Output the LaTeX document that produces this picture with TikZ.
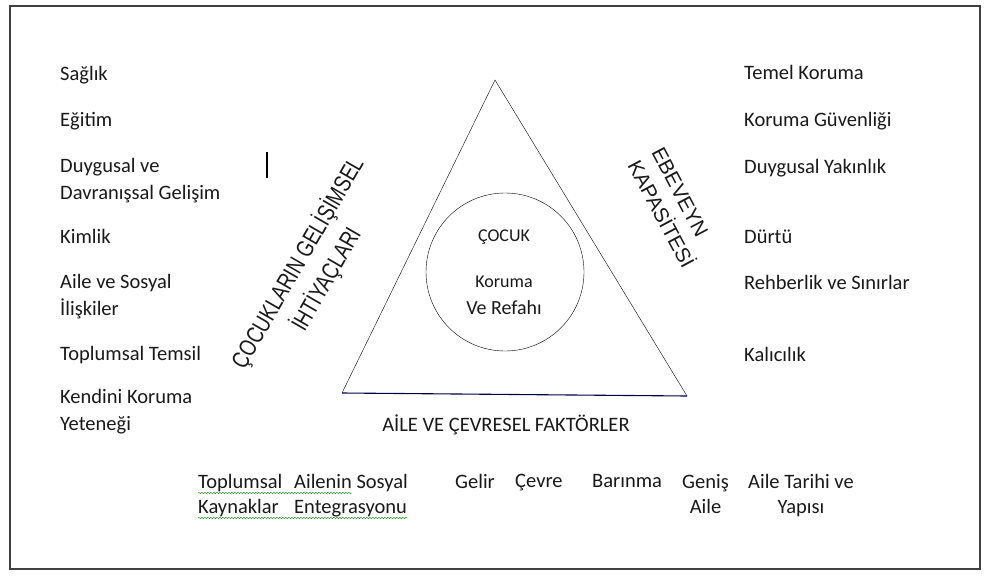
\documentclass[tikz,border=0pt]{standalone}
\usepackage{fontspec}
\setmainfont{Carlito}
\newfontfamily\narrowcaps[FakeStretch=0.78]{Liberation Sans}
\newfontfamily\plaincaps{Liberation Sans}
\usetikzlibrary{positioning}
\usetikzlibrary{decorations.pathmorphing}

\begin{document}
\begin{tikzpicture}[x=1pt, y=-1pt,
			item/.style={anchor=north west, inner sep=0pt, align=left, text=black!90, font=\fontsize{20.5}{27}\selectfont},
			factor/.style={anchor=north west, inner sep=0pt, text=black!90, font=\fontsize{20.5}{25}\selectfont},
			inside/.style={inner sep=0pt, text=black!90, font=\fontsize{18}{22}\selectfont},
			side/.style={inner sep=0pt, text=black!90},
			spell/.style={draw=green!55!black, decorate, decoration={snake, amplitude=0.7pt, segment length=3pt}},
			]
			
			\useasboundingbox (0,0) rectangle (984,575);
			\draw[black!75, line width=1.3pt] (10,6) rectangle (980,569);
			
			% triangle and circle
			\coordinate (apex) at (495,80);
			\coordinate (base_l) at (342,393);
			\coordinate (base_r) at (687,396);
			\draw (base_l) -- (apex) -- (base_r);
			\draw[blue!25!black, line width=1.1pt] (base_l) -- (base_r);
			\node[draw, circle, minimum size=158pt, inner sep=0pt] (child) at (505,272) {};
			
			\node[inside]       (cocuk)   at (504,237)                                   {ÇOCUK};
			\node[inside]       (korum)   at (504,282)                                   {Koruma};
			\node[inside]       (refah)   [below of=korum, node distance=26pt, font=\fontsize{20}{24}\selectfont] {Ve Refahı};
			
			\node[text=black!90, font=\fontsize{20.5}{24}\selectfont] (faktor) at (506,425) {AİLE VE ÇEVRESEL FAKTÖRLER};
			
			\node[side, align=center, rotate=60, font=\narrowcaps\fontsize{24}{28}\selectfont] (needs)    at (312,271) {ÇOCUKLARIN GELİŞİMSEL\\[5pt]İHTİYAÇLARI};
			\node[side, align=left, rotate=-62, font=\plaincaps\fontsize{20.5}{24}\selectfont] (capacity) at (673,208) {EBEVEYN\\[3pt]KAPASİTESİ};
			
			\draw[line width=2pt] (267,152) -- (267,178);
			
			% left list
			\node[item]         (saglik)  at (60,66)                                     {Sağlık};
			\node[item]         (egitim)  at (60,112)                                    {Eğitim};
			\node[item]         (duygu)   at (60,158)                                    {Duygusal ve\\Davranışsal Gelişim};
			\node[item]         (kimlik)  at (60,229)                                    {Kimlik};
			\node[item]         (iliski)  at (60,274)                                    {Aile ve Sosyal\\İlişkiler};
			\node[item]         (temsil)  at (60,346)                                    {Toplumsal Temsil};
			\node[item]         (kendini) at (60,389)                                    {Kendini Koruma\\Yeteneği};
			
			% right list
			\node[item]         (temel)   at (744,65)                                    {Temel Koruma};
			\node[item]         (guven)   at (744,112)                                   {Koruma Güvenliği};
			\node[item]         (yakin)   at (744,159)                                   {Duygusal Yakınlık};
			\node[item]         (durtu)   at (744,230)                                   {Dürtü};
			\node[item]         (rehber)  at (744,275)                                   {Rehberlik ve Sınırlar};
			\node[item]         (kalici)  at (744,347)                                   {Kalıcılık};
			
			% bottom row
			\node[factor, align=left]   (kaynak)  at (198,474)                           {Toplumsal\\Kaynaklar};
			\node[factor, align=left]   (entegre) at (294,474)                           {Ailenin Sosyal\\Entegrasyonu};
			\node[factor]               (gelir)   at (455,474)                           {Gelir};
			\node[factor]               (cevre)   at (515,474)                           {Çevre};
			\node[factor]               (barinma) at (592,474)                           {Barınma};
			\node[factor, align=center] (genis)   at (682,474)                           {Geniş\\Aile};
			\node[factor, align=center] (tarih)   at (748,474)                           {Aile Tarihi ve\\Yapısı};
			
			\draw[spell] ([yshift=-19pt]kaynak.north west) -- ([xshift=58pt, yshift=-19pt]entegre.north west);
			\draw[spell] ([yshift=-44pt]kaynak.north west) -- ([yshift=-44pt]entegre.north east);
			
			\end{tikzpicture}
\end{document}
